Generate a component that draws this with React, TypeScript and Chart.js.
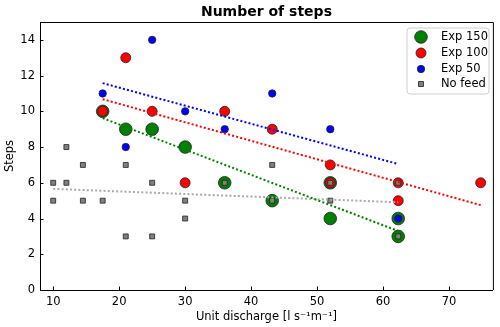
import React, { useEffect, useRef } from "react";
import { Chart, registerables } from "chart.js";

Chart.register(...registerables);

// ---- data ----
const exp150X = [17.5, 21, 25, 30, 36, 43.2, 52, 52, 62.3, 62.3];
const exp150Y = [10, 9, 9, 8, 6, 5, 6, 4, 4, 3];

const exp100X = [17.5, 21, 25, 30, 36, 43.2, 52, 52, 62.3, 62.3, 74.8];
const exp100Y = [10, 13, 10, 6, 10, 9, 7, 6, 6, 5, 6];

const exp50X = [17.5, 21, 25, 30, 36, 43.2, 52, 62.3];
const exp50Y = [11, 8, 14, 10, 9, 11, 9, 4];

const noFeedX = [10, 10, 12, 12, 14.5, 14.5, 17.5, 21, 21, 25, 25, 30, 30, 36, 43.2, 43.2, 52, 52, 62.3, 62.3];
const noFeedY = [6, 5, 6, 8, 7, 5, 5, 7, 3, 6, 3, 5, 4, 6, 7, 5, 6, 5, 6, 3];

// trend lines (end points)
const trend150X = [17.5, 62.3];
const trend150Y = [9.62, 3.3];
const trend100X = [17.5, 74.8];
const trend100Y = [10.68, 4.75];
const trend50X = [17.5, 62.3];
const trend50Y = [11.58, 7.05];
const trendNoFeedX = [10, 62.3];
const trendNoFeedY = [5.66, 4.91];

const xTicks = [10, 20, 30, 40, 50, 60, 70];
const yTicks = [0, 2, 4, 6, 8, 10, 12, 14];

const legendLabels = ["Exp 150", "Exp 100", "Exp 50", "No feed"];
const titleText = "Number of steps";
const xTitle = "Unit discharge [l s\u207B\u00B9m\u207B\u00B9]";
const yTitle = "Steps";

const FONT = "'DejaVu Sans', sans-serif";

const zip = (xs: number[], ys: number[]) => xs.map((x, i) => ({ x, y: ys[i] }));

const overlayPlugin = {
  id: "overlay",
  afterDraw(chart: any) {
    const ctx = chart.ctx;
    const a = chart.chartArea;
    const xs = chart.scales.x;
    const ys = chart.scales.y;
    ctx.save();
    // frame top/right
    ctx.strokeStyle = "#000";
    ctx.lineWidth = 1;
    ctx.beginPath();
    ctx.moveTo(a.left, a.top + 0.5);
    ctx.lineTo(a.right + 0.5, a.top + 0.5);
    ctx.lineTo(a.right + 0.5, a.bottom);
    ctx.stroke();
    // inward ticks
    ctx.lineWidth = 1;
    xTicks.forEach((v) => {
      const px = Math.round(xs.getPixelForValue(v)) + 0.5;
      ctx.beginPath();
      ctx.moveTo(px, a.bottom);
      ctx.lineTo(px, a.bottom - 3.5);
      ctx.stroke();
    });
    yTicks.forEach((v) => {
      const py = Math.round(ys.getPixelForValue(v)) + 0.5;
      ctx.beginPath();
      ctx.moveTo(a.left, py);
      ctx.lineTo(a.left + 3.5, py);
      ctx.stroke();
    });
    // title
    ctx.fillStyle = "#000";
    ctx.font = `bold 14px ${FONT}`;
    ctx.textAlign = "center";
    ctx.textBaseline = "alphabetic";
    ctx.fillText(titleText, (a.left + a.right) / 2, 16);

    // legend
    const lx = 407, ly = 28, lw = 82, lh = 66;
    ctx.beginPath();
    const r = 3;
    ctx.moveTo(lx + r, ly);
    ctx.arcTo(lx + lw, ly, lx + lw, ly + lh, r);
    ctx.arcTo(lx + lw, ly + lh, lx, ly + lh, r);
    ctx.arcTo(lx, ly + lh, lx, ly, r);
    ctx.arcTo(lx, ly, lx + lw, ly, r);
    ctx.closePath();
    ctx.fillStyle = "rgba(255,255,255,0.8)";
    ctx.fill();
    ctx.strokeStyle = "#d0d0d0";
    ctx.lineWidth = 1;
    ctx.stroke();

    const rowsY = [37, 53, 69, 84];
    const mx = 421;
    const styles = [
      { c: "#008000", r: 6.3, sq: false },
      { c: "#ff0000", r: 5, sq: false },
      { c: "#0000ff", r: 3.7, sq: false },
      { c: "#808080", r: 2.5, sq: true },
    ];
    styles.forEach((s, i) => {
      ctx.beginPath();
      if (s.sq) ctx.rect(mx - s.r, rowsY[i] - s.r, s.r * 2, s.r * 2);
      else ctx.arc(mx, rowsY[i], s.r, 0, Math.PI * 2);
      ctx.fillStyle = s.c;
      ctx.fill();
      ctx.strokeStyle = "#222";
      ctx.lineWidth = 0.8;
      ctx.stroke();
      ctx.fillStyle = "#000";
      ctx.font = `11.5px ${FONT}`;
      ctx.textAlign = "left";
      ctx.textBaseline = "middle";
      ctx.fillText(legendLabels[i], 441, rowsY[i] + 0.5);
    });
    ctx.restore();
  },
};

export default function App() {
  const ref = useRef<HTMLCanvasElement | null>(null);
  useEffect(() => {
    if (!ref.current) return;
    Chart.defaults.font.family = FONT;
    Chart.defaults.color = "#000";
    const pts = (c: string, r: number, style: string, order: number, xs: number[], ys: number[], label: string) => ({
      label,
      data: zip(xs, ys),
      backgroundColor: c,
      borderColor: "#222",
      borderWidth: 0.8,
      pointRadius: r,
      pointHoverRadius: r,
      pointStyle: style,
      showLine: false,
      order,
    });
    const line = (c: string, xs: number[], ys: number[], label: string) => ({
      label,
      data: zip(xs, ys),
      borderColor: c,
      backgroundColor: c,
      borderWidth: 2,
      borderDash: [2, 2.2],
      borderCapStyle: "butt",
      pointRadius: 0,
      showLine: true,
      fill: false,
      order: 0,
    });
    const chart = new Chart(ref.current, {
      type: "scatter",
      data: {
        datasets: [
          line("#008000", trend150X, trend150Y, "trend150"),
          line("#ff0000", trend100X, trend100Y, "trend100"),
          line("#0000ff", trend50X, trend50Y, "trend50"),
          line("#a9a9a9", trendNoFeedX, trendNoFeedY, "trendNoFeed"),
          pts("#808080", 3.5, "rect", 1, noFeedX, noFeedY, legendLabels[3]),
          pts("#0000ff", 3.7, "circle", 2, exp50X, exp50Y, legendLabels[2]),
          pts("#ff0000", 5, "circle", 3, exp100X, exp100Y, legendLabels[1]),
          pts("#008000", 6.3, "circle", 4, exp150X, exp150Y, legendLabels[0]),
        ] as any,
      },
      options: {
        animation: false,
        responsive: false,
        devicePixelRatio: 1,
        layout: { padding: { top: 22, right: 7, left: 0, bottom: 0 } },
        plugins: { legend: { display: false }, tooltip: { enabled: false }, title: { display: false } },
        events: [],
        scales: {
          x: {
            type: "linear",
            min: 8,
            max: 76.65,
            grid: { display: false, drawTicks: false },
            border: { display: true, color: "#000", width: 1 },
            ticks: { font: { size: 11.5 }, padding: 5, color: "#000", maxRotation: 0 },
            afterBuildTicks: (s: any) => { s.ticks = xTicks.map((v) => ({ value: v })); },
            afterFit: (s: any) => { s.height = 37; },
            title: { display: true, text: xTitle, font: { size: 11.5 }, padding: { top: 0, bottom: 3 }, color: "#000" },
          },
          y: {
            type: "linear",
            min: 0,
            max: 15,
            grid: { display: false, drawTicks: false },
            border: { display: true, color: "#000", width: 1 },
            ticks: { font: { size: 11.5 }, padding: 5, color: "#000" },
            afterBuildTicks: (s: any) => { s.ticks = yTicks.map((v) => ({ value: v })); },
            afterFit: (s: any) => { s.width = 40; },
            title: { display: true, text: yTitle, font: { size: 11.5 }, padding: { top: 3, bottom: 0 }, color: "#000" },
          },
        },
      } as any,
      plugins: [overlayPlugin],
    });
    return () => chart.destroy();
  }, []);
  return (
    <div style={{ position: "fixed", left: 0, top: 0, width: 500, height: 327, background: "#fff" }}>
      <canvas ref={ref} width={500} height={327} style={{ display: "block" }} />
    </div>
  );
}
